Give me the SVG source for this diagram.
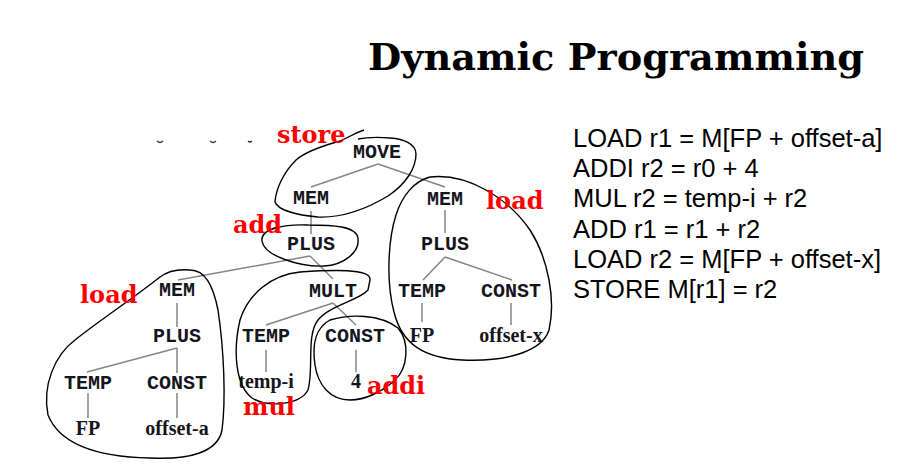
<svg xmlns="http://www.w3.org/2000/svg" width="905" height="472" viewBox="0 0 905 472">
  <style>
    .title { font-family: "DejaVu Serif", "Liberation Serif", serif; font-weight: bold; font-size: 38px; fill: #000; }
    .code { font-family: "Liberation Sans", Arial, sans-serif; font-size: 25.5px; fill: #000; }
    .op { font-family: "Liberation Mono", "Courier New", monospace; font-weight: bold; font-size: 20px; fill: #151520; text-anchor: middle; }
    .leaf { font-family: "Liberation Serif", "Times New Roman", serif; font-weight: bold; font-size: 20px; fill: #151520; text-anchor: middle; }
    .tag { font-family: "DejaVu Serif", "Liberation Serif", serif; font-weight: bold; font-size: 24px; fill: #ff0000; }
    .edge { stroke: #858585; stroke-width: 1.5; fill: none; }
    .loop { stroke: #000; stroke-width: 1.4; fill: none; }
    .tick { stroke: #334; stroke-width: 1.2; fill: none; }
  </style>

  <rect width="905" height="472" fill="#fff"/>

  <text class="title" x="368" y="70" textLength="496" lengthAdjust="spacingAndGlyphs">Dynamic Programming</text>

  <!-- instruction sequence -->
  <g id="code">
    <text class="code" x="573" y="147">LOAD r1 = M[FP + offset-a]</text>
    <text class="code" x="573" y="177">ADDI r2 = r0 + 4</text>
    <text class="code" x="573" y="207">MUL r2 = temp-i + r2</text>
    <text class="code" x="573" y="238">ADD r1 = r1 + r2</text>
    <text class="code" x="573" y="268">LOAD r2 = M[FP + offset-x]</text>
    <text class="code" x="573" y="298">STORE M[r1] = r2</text>
  </g>

  <!-- small marks left of the tree -->
  <path class="tick" d="M157,141 q3,3 6,0 M210,141 q3,3 6,0 M248,141 q2,2 4,0"/>

  <!-- tree edges -->
  <g id="connectors">
    <path class="edge" d="M378,164 L311,187"/>
    <path class="edge" d="M378,164 L445,187"/>
    <path class="edge" d="M311,211 L311,234"/>
    <path class="edge" d="M445,210 L445,233"/>
    <path class="edge" d="M445,257 L423,280"/>
    <path class="edge" d="M445,257 L512,280"/>
    <path class="edge" d="M422,303 L422,322"/>
    <path class="edge" d="M511,303 L511,325"/>
    <path class="edge" d="M310,256 L178,280"/>
    <path class="edge" d="M310,256 L333,279"/>
    <path class="edge" d="M333,303 L266,325"/>
    <path class="edge" d="M333,303 L356,325"/>
    <path class="edge" d="M266,350 L266,372"/>
    <path class="edge" d="M356,350 L356,372"/>
    <path class="edge" d="M177,303 L177,327"/>
    <path class="edge" d="M177,348 L87,372"/>
    <path class="edge" d="M177,348 L177,373"/>
    <path class="edge" d="M88,393 L88,418"/>
    <path class="edge" d="M177,393 L177,418"/>
  </g>

  <!-- tree nodes -->
  <g id="n-move"><text class="op" x="377" y="158">MOVE</text></g>
  <g id="n-mem-store"><text class="op" x="311" y="204">MEM</text></g>
  <g id="n-mem-x"><text class="op" x="445" y="205">MEM</text></g>
  <g id="n-plus-x"><text class="op" x="445" y="250">PLUS</text></g>
  <g id="n-temp-x"><text class="op" x="422" y="297">TEMP</text></g>
  <g id="n-const-x"><text class="op" x="511" y="297">CONST</text></g>
  <g id="n-fp-x"><text class="leaf" x="422" y="342">FP</text></g>
  <g id="n-offset-x"><text class="leaf" x="511" y="342">offset-x</text></g>
  <g id="n-plus-add"><text class="op" x="311" y="250">PLUS</text></g>
  <g id="n-mult"><text class="op" x="333" y="297">MULT</text></g>
  <g id="n-temp-i"><text class="op" x="266" y="342">TEMP</text></g>
  <g id="n-const-4"><text class="op" x="355" y="342">CONST</text></g>
  <g id="n-tempi"><text class="leaf" x="266" y="388">temp-i</text></g>
  <g id="n-four"><text class="leaf" x="356" y="388">4</text></g>
  <g id="n-mem-a"><text class="op" x="177" y="296">MEM</text></g>
  <g id="n-plus-a"><text class="op" x="177" y="342">PLUS</text></g>
  <g id="n-temp-a"><text class="op" x="88" y="389">TEMP</text></g>
  <g id="n-const-a"><text class="op" x="177" y="389">CONST</text></g>
  <g id="n-fp-a"><text class="leaf" x="88" y="435">FP</text></g>
  <g id="n-offset-a"><text class="leaf" x="177" y="435">offset-a</text></g>

  <!-- hand-drawn tile outlines -->
  <g id="tiles">
    <path class="loop" d="M364,130 C352,134 346,139 340,141 C322,146 305,152 296,160 C284,172 276,188 275,202 C278,210 296,215 318,217 C342,218 368,208 388,196 C406,184 416,168 416,154 C416,144 404,139 390,138 C378,137 368,137 358,139"/>
    <path class="loop" d="M430,177 C468,173 508,198 530,230 C548,258 556,300 549,330 C542,352 505,362 462,360 C425,358 402,345 394,312 C386,282 388,240 396,215 C402,196 414,181 430,177 Z"/>
    <path class="loop" d="M262,241 C260,228 286,224 308,225 C333,225 356,226 358,238 C360,252 344,265 324,266 C300,267 264,256 262,241 Z"/>
    <path class="loop" d="M190,270 C205,270 213,285 218,310 C224,350 226,400 222,430 C218,452 190,460 150,458 C100,457 60,445 48,415 C42,385 55,355 75,340 C100,320 135,297 160,277 C168,271 180,269 190,270 Z"/>
    <path class="loop" d="M370,280 C372,268 330,270 300,272 C270,275 248,295 240,320 C233,350 235,385 252,398 C268,408 300,405 308,390 C314,370 306,335 318,320 C330,305 360,300 368,290 Z"/>
    <path class="loop" d="M330,320 C350,314 380,314 398,328 C410,342 408,368 395,380 C382,392 365,400 350,400 C330,400 318,385 315,365 C312,345 315,328 330,320 Z"/>
  </g>

  <!-- tile names -->
  <g id="labels">
    <text class="tag" x="277" y="143">store</text>
    <text class="tag" x="233" y="233">add</text>
    <text class="tag" x="486" y="209">load</text>
    <text class="tag" x="80" y="303">load</text>
    <text class="tag" x="243" y="415">mul</text>
    <text class="tag" x="367" y="394">addi</text>
  </g>
</svg>
